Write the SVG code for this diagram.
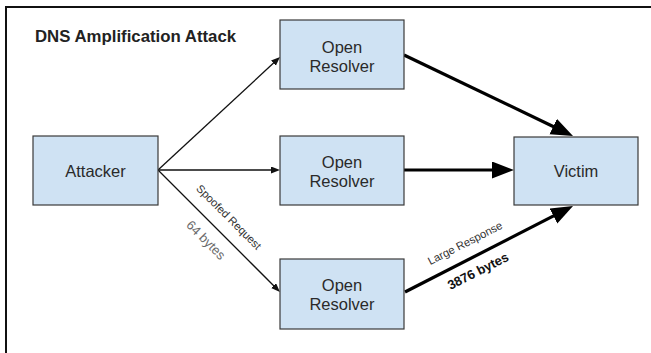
<svg xmlns="http://www.w3.org/2000/svg" width="651" height="353" viewBox="0 0 651 353">
  <defs>
    <style>
      .box { fill: #cfe2f3; stroke: #3a3a3a; stroke-width: 1.2; }
      .lbl { font-family: "Liberation Sans", Arial, sans-serif; font-size: 16.5px; fill: #2a2a2a; text-anchor: middle; }
      .thin { stroke: #111; stroke-width: 1.3; fill: none; marker-end: url(#headThin); }
      .thick { stroke: #000; stroke-width: 3.2; fill: none; marker-end: url(#headThick); }
      .elbl { font-family: "Liberation Sans", Arial, sans-serif; text-anchor: middle; }
    </style>
    <marker id="headThin" markerUnits="userSpaceOnUse" markerWidth="10" markerHeight="8" refX="2" refY="3.5" orient="auto">
      <path d="M0,0 L9,3.5 L0,7 z" fill="#111"/>
    </marker>
    <marker id="headThick" markerUnits="userSpaceOnUse" markerWidth="24" markerHeight="18" refX="4" refY="8.5" orient="auto">
      <path d="M0,0 L22,8.5 L0,17 z" fill="#000"/>
    </marker>
  </defs>

  <rect width="651" height="353" fill="#fff"/>
  <!-- outer frame (top and left edges) -->
  <path d="M6,353 V7 H651" fill="none" stroke="#111" stroke-width="2"/>

  <text x="35" y="42" font-family="Liberation Sans, Arial, sans-serif" font-size="16.8" font-weight="bold" fill="#222">DNS Amplification Attack</text>

  <g id="connectors">
    <line class="thin" x1="158" y1="170" x2="274.9" y2="61.8"/>
    <line class="thin" x1="158" y1="170" x2="273" y2="170"/>
    <line class="thin" x1="158" y1="170" x2="275" y2="287"/>
    <line class="thick" x1="404" y1="55" x2="556.8" y2="128.2"/>
    <line class="thick" x1="404" y1="170" x2="496" y2="170"/>
    <line class="thick" x1="405" y1="292" x2="557" y2="214.2"/>

    <g transform="translate(229,217) rotate(45)">
      <text class="elbl" y="4" font-size="11.2" fill="#333">Spoofed Request</text>
    </g>
    <g transform="translate(206,240) rotate(45)">
      <text class="elbl" y="4.5" font-size="13" fill="#6a6a6a">64 bytes</text>
    </g>
    <g transform="translate(465,243) rotate(-27)">
      <text class="elbl" y="4" font-size="11.2" fill="#333">Large Response</text>
    </g>
    <g transform="translate(478,271) rotate(-27)">
      <text class="elbl" y="4.5" font-size="13" font-weight="bold" fill="#111">3876 bytes</text>
    </g>
  </g>

  <g id="attacker">
    <rect class="box" x="33" y="136" width="125" height="69"/>
    <text class="lbl" x="95.5" y="176.5">Attacker</text>
  </g>

  <g id="resolver-top">
    <rect class="box" x="280" y="20" width="124" height="69"/>
    <text class="lbl" x="342" y="53">Open</text>
    <text class="lbl" x="342" y="72">Resolver</text>
  </g>

  <g id="resolver-middle">
    <rect class="box" x="280" y="136" width="124" height="69"/>
    <text class="lbl" x="342" y="168">Open</text>
    <text class="lbl" x="342" y="187">Resolver</text>
  </g>

  <g id="resolver-bottom">
    <rect class="box" x="280" y="259" width="124" height="70"/>
    <text class="lbl" x="342" y="291">Open</text>
    <text class="lbl" x="342" y="310">Resolver</text>
  </g>

  <g id="victim">
    <rect class="box" x="514" y="137" width="124" height="68"/>
    <text class="lbl" x="576" y="176.5">Victim</text>
  </g>
</svg>
